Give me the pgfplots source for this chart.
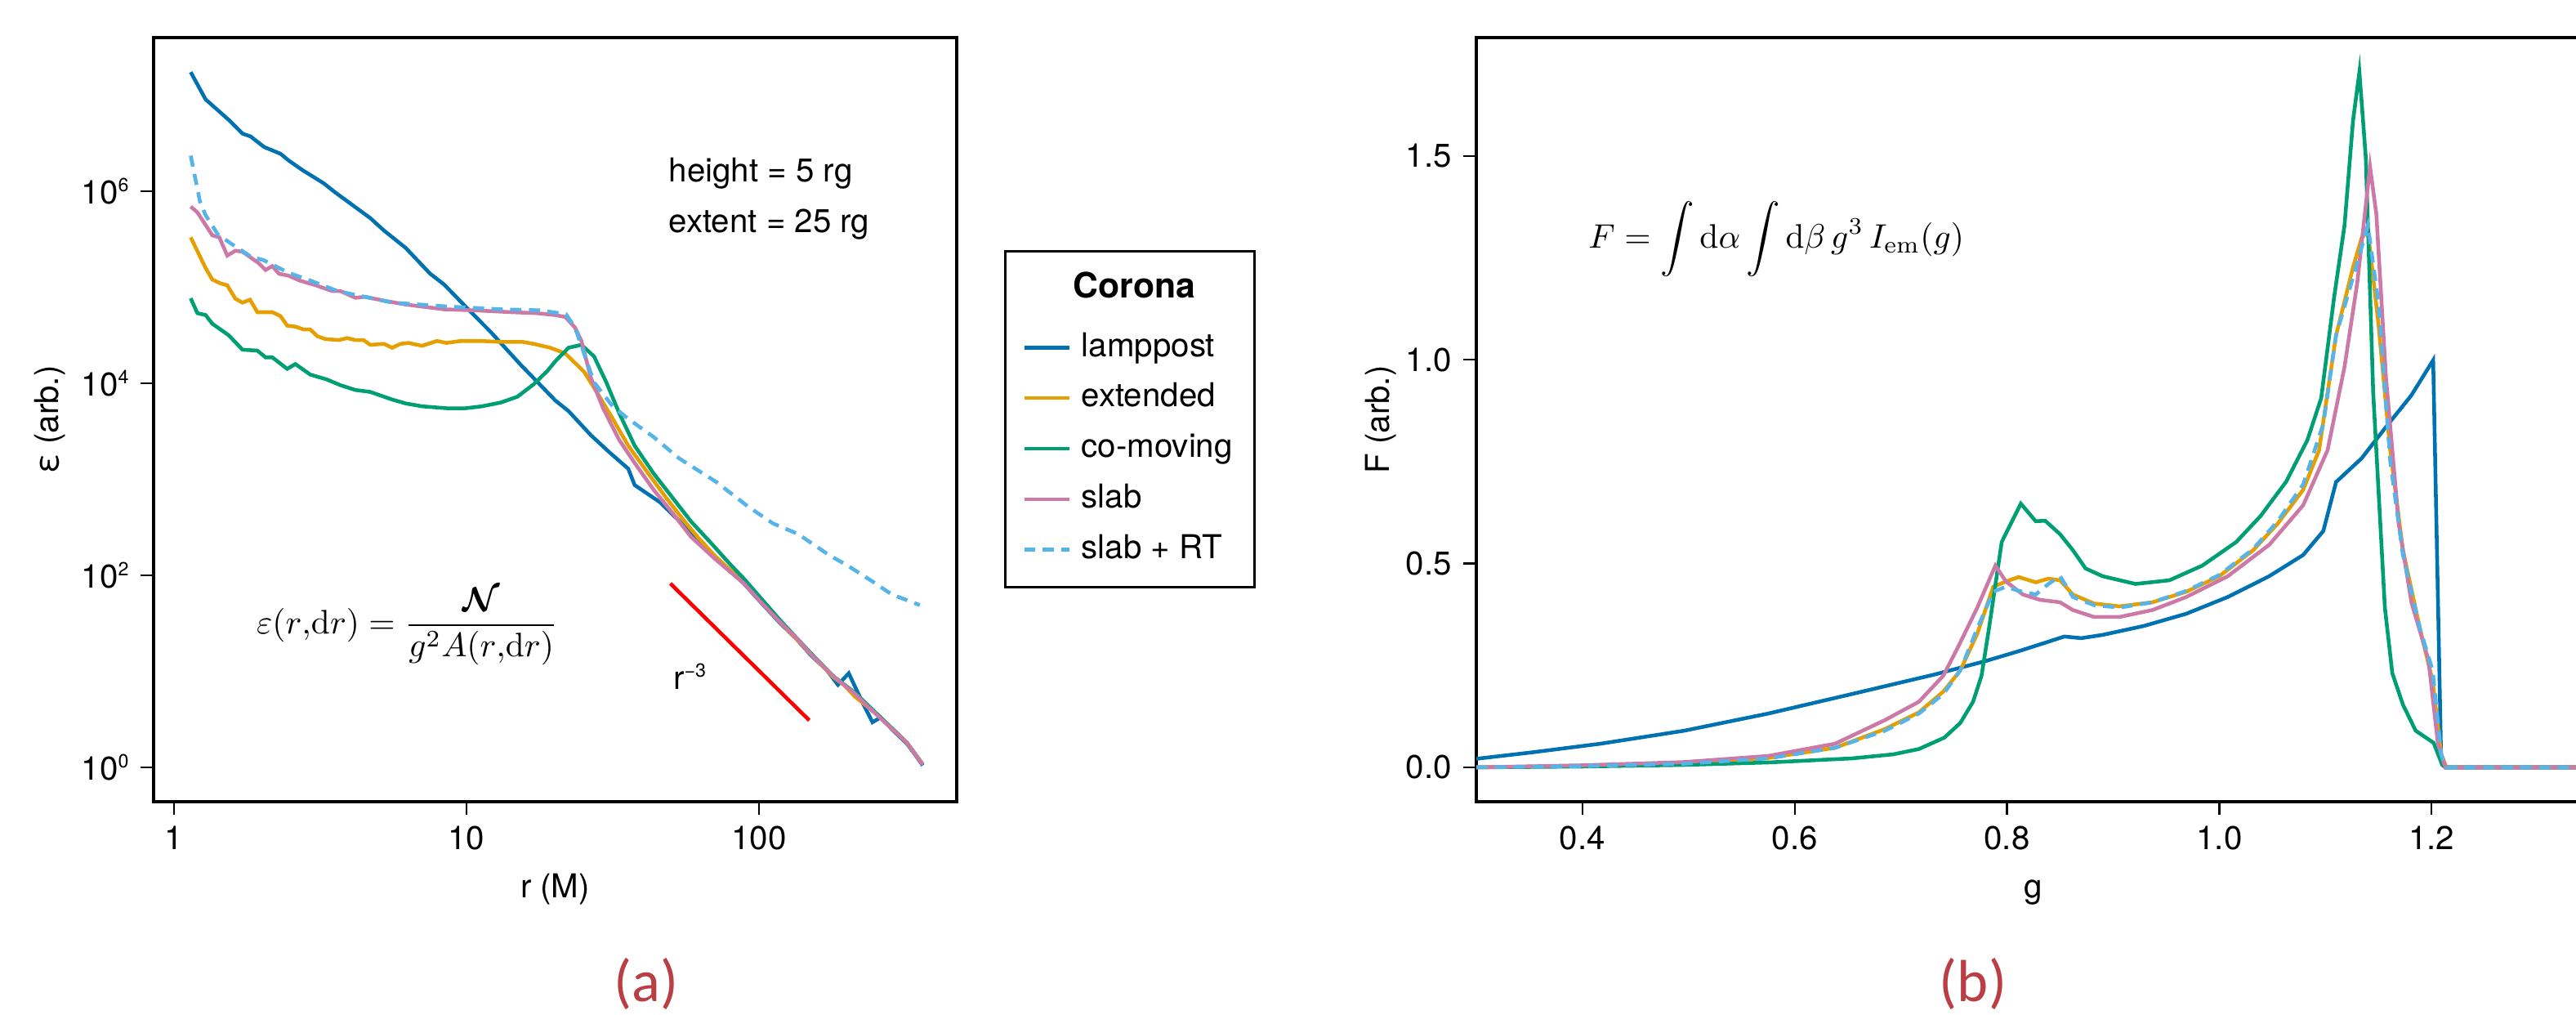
\documentclass[border=0pt]{standalone}
\usepackage[no-math]{fontspec}
\setmainfont{TeX Gyre Heros}
\newfontfamily\carlito{Carlito}
\usepackage{amsmath}
\usepackage{pgfplots}
\pgfplotsset{compat=1.18}

\definecolor{clamp}{RGB}{0,114,178}
\definecolor{cext}{RGB}{230,159,0}
\definecolor{ccom}{RGB}{0,158,115}
\definecolor{cslab}{RGB}{204,121,167}
\definecolor{crt}{RGB}{86,180,233}
\definecolor{labred}{RGB}{186,63,68}

\newcommand{\fs}{\fontsize{9.7pt}{11.6pt}\selectfont}
\newcommand{\sps}[1]{\raisebox{3.6pt}{\fontsize{5.6pt}{6pt}\selectfont #1}}

\pgfplotsset{
  panel/.style={
    scale only axis,
    anchor=south west,
    axis line style={line width=0.8pt},
    every tick/.style={black, line width=0.6pt},
    major tick length=3.8pt,
    tick align=outside,
    tick pos=left,
    tick label style={font=\fs},
    label style={font=\fs},
    every axis plot/.append style={line width=1.1pt},
    /pgf/number format/assume math mode=true,
  }
}

\begin{document}
\begin{tikzpicture}

% (a) emissivity, plotted as log10 r against log10 eps
\begin{axis}[panel,
  at={(1.592cm,2.210cm)}, width=8.324cm, height=7.918cm,
  xmin=-0.0698, xmax=2.676, ymin=-0.357, ymax=7.6,
  xtick={0,1,2}, xticklabels={1,10,100},
  ytick={0,2,4,6},
  yticklabels={10\sps{0},10\sps{2},10\sps{4},10\sps{6}},
  xlabel={r (M)}, ylabel={ε (arb.)},
  xlabel style={at={(axis description cs:0.5,-0.1262)}, anchor=base},
  ylabel style={at={(axis description cs:-0.1185,0.5)}, anchor=base},
  legend image code/.code={\draw[#1] (0cm,0cm) -- (0.47cm,0cm);},
  legend cell align=left,
  legend style={at={(axis description cs:1.059,0.722)}, anchor=north west,
    draw=black, line width=0.75pt, font=\fs,
    inner xsep=5pt, inner ysep=5pt, row sep=2.7pt, column sep=1.5pt,
    nodes={inner sep=1.5pt, text height=7.2pt, text depth=2pt}},
]
\addlegendimage{empty legend}
\addlegendentry[text depth=4.4pt]{\hspace*{-2.5pt}\fontsize{10.3pt}{12pt}\selectfont\textbf{Corona}}

\addplot[clamp] coordinates {
(0.057,7.24) (0.108,6.956) (0.187,6.743) (0.234,6.60) (0.262,6.57) (0.308,6.46)
(0.364,6.39) (0.392,6.32) (0.439,6.22) (0.513,6.08) (0.550,5.99) (0.671,5.72)
(0.718,5.59) (0.792,5.41) (0.876,5.14) (0.923,5.03) (1.006,4.77) (1.081,4.54)
(1.183,4.20) (1.304,3.82) (1.349,3.71) (1.425,3.46) (1.489,3.28) (1.553,3.11)
(1.575,2.94) (1.662,2.76) (1.746,2.51) (1.790,2.35) (1.85,2.18) (1.947,1.92)
(2.00,1.74) (2.073,1.50) (2.13,1.33) (2.18,1.16) (2.23,1.02) (2.27,0.86)
(2.307,0.98) (2.35,0.70) (2.388,0.47) (2.416,0.52) (2.46,0.38) (2.505,0.25)
(2.53,0.15) (2.56,0.02)
};
\addlegendentry{lamppost}

\addplot[cext] coordinates {
(0.057,5.52) (0.108,5.20) (0.131,5.08) (0.159,5.04) (0.182,5.02) (0.210,4.88)
(0.234,4.84) (0.260,4.87) (0.285,4.74) (0.336,4.74) (0.364,4.70) (0.387,4.60)
(0.415,4.59) (0.443,4.56) (0.466,4.56) (0.490,4.49) (0.518,4.46) (0.564,4.45)
(0.592,4.47) (0.620,4.45) (0.648,4.45) (0.671,4.40) (0.718,4.41) (0.746,4.37)
(0.774,4.41) (0.802,4.42) (0.848,4.39) (0.899,4.44) (0.932,4.42) (0.979,4.44)
(1.053,4.44) (1.118,4.43) (1.193,4.43) (1.230,4.41) (1.286,4.37) (1.304,4.35)
(1.338,4.31) (1.402,4.12) (1.447,3.90) (1.500,3.63) (1.553,3.35) (1.617,3.08)
(1.682,2.81) (1.746,2.56) (1.790,2.40) (1.85,2.20) (1.947,1.93) (2.073,1.51)
(2.18,1.17) (2.254,0.94) (2.29,0.86) (2.327,0.74) (2.416,0.52) (2.505,0.26)
(2.56,0.03)
};
\addlegendentry{extended}

\addplot[ccom] coordinates {
(0.057,4.885) (0.080,4.73) (0.108,4.71) (0.131,4.62) (0.159,4.56) (0.187,4.50)
(0.234,4.35) (0.285,4.34) (0.313,4.27) (0.336,4.27) (0.387,4.15) (0.415,4.20)
(0.466,4.09) (0.522,4.04) (0.569,3.98) (0.620,3.93) (0.671,3.91) (0.746,3.83)
(0.792,3.79) (0.848,3.76) (0.932,3.74) (0.997,3.74) (1.053,3.76) (1.118,3.80)
(1.174,3.86) (1.230,3.99) (1.277,4.13) (1.304,4.23) (1.349,4.37) (1.393,4.40)
(1.436,4.28) (1.478,4.01) (1.522,3.69) (1.575,3.35) (1.640,3.06) (1.704,2.81)
(1.768,2.56) (1.832,2.35) (1.90,2.12) (1.947,1.97) (2.073,1.53) (2.18,1.18)
(2.254,0.95) (2.327,0.78) (2.416,0.52) (2.505,0.26) (2.56,0.03)
};
\addlegendentry{co-moving}

\addplot[cslab] coordinates {
(0.057,5.84) (0.080,5.78) (0.131,5.54) (0.155,5.52) (0.182,5.33) (0.210,5.38)
(0.234,5.37) (0.290,5.25) (0.313,5.18) (0.336,5.22) (0.359,5.14) (0.392,5.12)
(0.429,5.07) (0.485,5.02) (0.541,4.96) (0.569,4.96) (0.620,4.89) (0.653,4.90)
(0.718,4.86) (0.792,4.82) (0.923,4.77) (1.025,4.76) (1.155,4.74) (1.239,4.73)
(1.304,4.71) (1.338,4.69) (1.371,4.58) (1.393,4.44) (1.425,4.06) (1.467,3.74)
(1.522,3.41) (1.575,3.17) (1.640,2.89) (1.704,2.65) (1.768,2.40) (1.85,2.17)
(1.947,1.92) (2.01,1.71) (2.073,1.51) (2.13,1.34) (2.18,1.17) (2.254,0.95)
(2.327,0.77) (2.37,0.64) (2.416,0.51) (2.505,0.26) (2.56,0.03)
};
\addlegendentry{slab}

\addplot[crt, dash pattern=on 3.3pt off 2.2pt] coordinates {
(0.057,6.37) (0.089,5.89) (0.108,5.75) (0.150,5.55) (0.197,5.45) (0.262,5.32)
(0.308,5.28) (0.392,5.15) (0.466,5.07) (0.559,4.96) (0.746,4.84) (0.932,4.80)
(1.118,4.77) (1.249,4.76) (1.340,4.72) (1.371,4.58) (1.393,4.39) (1.436,4.01)
(1.500,3.76) (1.553,3.63) (1.640,3.44) (1.726,3.22) (1.855,2.97) (1.961,2.72)
(2.048,2.54) (2.134,2.43) (2.240,2.21) (2.304,2.10) (2.391,1.93) (2.455,1.80)
(2.55,1.69)
};
\addlegendentry{slab + RT}

\addplot[red, line width=1.1pt, forget plot] coordinates {(1.697,1.915) (2.172,0.49)};

\node[anchor=base west, font=\fs, inner sep=0pt] at (axis cs:1.690,6.094) {height = 5 rg};
\node[anchor=base west, font=\fs, inner sep=0pt] at (axis cs:1.690,5.566) {extent = 25 rg};
\node[anchor=base west, font=\fs, inner sep=0pt] at (axis cs:1.705,0.81) {r\sps{−3}};
\node[anchor=west, inner sep=0pt] at (axis cs:0.28,1.47)
  {$\displaystyle \varepsilon(r{,}\mathrm{d}r) = \frac{\boldsymbol{\mathcal{N}}}{g^2A(r{,}\mathrm{d}r)}$};
\end{axis}

% (b) line profile
\begin{axis}[panel,
  at={(15.302cm,2.210cm)}, width=11.551cm, height=7.918cm,
  xmin=0.3, xmax=1.35, ymin=-0.0842, ymax=1.7906,
  xtick={0.4,0.6,0.8,1.0,1.2}, xticklabels={0.4,0.6,0.8,1.0,1.2},
  ytick={0,0.5,1.0,1.5}, yticklabels={0.0,0.5,1.0,1.5},
  xlabel={g}, ylabel={F (arb.)},
  xlabel style={at={(axis description cs:0.5,-0.1262)}, anchor=base},
  ylabel style={at={(axis description cs:-0.0784,0.5)}, anchor=base},
]
\addplot[clamp] coordinates {
(0.300,0.021) (0.350,0.036) (0.417,0.058) (0.496,0.090) (0.575,0.132) (0.654,0.180)
(0.732,0.228) (0.780,0.261) (0.811,0.285) (0.835,0.305) (0.854,0.321) (0.870,0.317)
(0.890,0.325) (0.929,0.347) (0.969,0.377) (1.008,0.418) (1.047,0.469) (1.079,0.521)
(1.098,0.580) (1.110,0.700) (1.134,0.758) (1.157,0.835) (1.181,0.913) (1.2015,0.999)
(1.209,0.020) (1.213,0.0) (1.40,0.0)
};
\addplot[cext] coordinates {
(0.300,0.0) (0.400,0.004) (0.496,0.010) (0.575,0.023) (0.638,0.048) (0.685,0.094)
(0.717,0.135) (0.740,0.186) (0.756,0.238) (0.772,0.328) (0.787,0.443) (0.799,0.456)
(0.811,0.467) (0.827,0.454) (0.839,0.463) (0.850,0.459) (0.862,0.424) (0.882,0.402)
(0.906,0.395) (0.937,0.405) (0.969,0.431) (1.000,0.469) (1.032,0.533) (1.055,0.598)
(1.079,0.681) (1.094,0.778) (1.110,1.060) (1.126,1.227) (1.134,1.298) (1.140,1.317)
(1.150,1.086) (1.161,0.778) (1.173,0.533) (1.189,0.341) (1.201,0.212) (1.209,0.032)
(1.214,0.0) (1.40,0.0)
};
\addplot[ccom] coordinates {
(0.300,0.0) (0.400,0.002) (0.496,0.006) (0.575,0.012) (0.654,0.022) (0.693,0.032)
(0.717,0.045) (0.741,0.073) (0.756,0.109) (0.768,0.161) (0.776,0.225) (0.783,0.341)
(0.795,0.553) (0.813,0.647) (0.827,0.604) (0.836,0.605) (0.850,0.572) (0.862,0.533)
(0.874,0.488) (0.890,0.469) (0.921,0.450) (0.953,0.459) (0.984,0.495) (1.016,0.553)
(1.039,0.617) (1.063,0.701) (1.083,0.803) (1.096,0.906) (1.108,1.150) (1.118,1.330)
(1.126,1.587) (1.132,1.706) (1.138,1.497) (1.145,0.919) (1.156,0.392) (1.163,0.231)
(1.173,0.154) (1.185,0.090) (1.202,0.060) (1.210,0.006) (1.213,0.0) (1.40,0.0)
};
\addplot[cslab] coordinates {
(0.300,0.0) (0.400,0.005) (0.496,0.013) (0.575,0.028) (0.638,0.058) (0.685,0.116)
(0.717,0.161) (0.740,0.225) (0.754,0.296) (0.772,0.392) (0.789,0.495) (0.799,0.456)
(0.815,0.424) (0.831,0.411) (0.850,0.405) (0.862,0.386) (0.882,0.369) (0.906,0.369)
(0.937,0.386) (0.969,0.418) (1.008,0.469) (1.047,0.546) (1.079,0.643) (1.102,0.778)
(1.118,0.983) (1.130,1.189) (1.142,1.474) (1.148,1.356) (1.157,0.958) (1.169,0.598)
(1.181,0.405) (1.197,0.264) (1.206,0.058) (1.213,0.0) (1.40,0.0)
};
\addplot[crt, dash pattern=on 3.3pt off 2.2pt] coordinates {
(0.300,0.0) (0.400,0.003) (0.496,0.009) (0.575,0.022) (0.638,0.048) (0.685,0.090)
(0.717,0.132) (0.740,0.180) (0.756,0.238) (0.772,0.341) (0.787,0.431) (0.799,0.443)
(0.811,0.433) (0.827,0.424) (0.839,0.450) (0.850,0.469) (0.862,0.418) (0.882,0.398)
(0.906,0.392) (0.937,0.405) (0.969,0.433) (1.000,0.472) (1.032,0.536) (1.055,0.604)
(1.079,0.694) (1.098,0.842) (1.110,1.060) (1.126,1.202) (1.140,1.330) (1.150,1.138)
(1.161,0.752) (1.173,0.521) (1.189,0.341) (1.201,0.238) (1.209,0.032) (1.214,0.0)
(1.40,0.0)
};
\node[anchor=west, inner sep=0pt] at (axis cs:0.405,1.295)
  {$\displaystyle F = \int \mathrm{d}\alpha \int \mathrm{d}\beta\, g^3\, I_{\mathrm{em}}(g)$};
\end{axis}

\node[font=\carlito\fontsize{17.5pt}{20pt}\selectfont, text=labred] at (6.698cm,0.322cm) {(a)};
\node[font=\carlito\fontsize{17.5pt}{20pt}\selectfont, text=labred] at (20.451cm,0.322cm) {(b)};

\pgfresetboundingbox
\path[use as bounding box] (0,0) rectangle (26.7cm,10.517cm);
\end{tikzpicture}
\end{document}
